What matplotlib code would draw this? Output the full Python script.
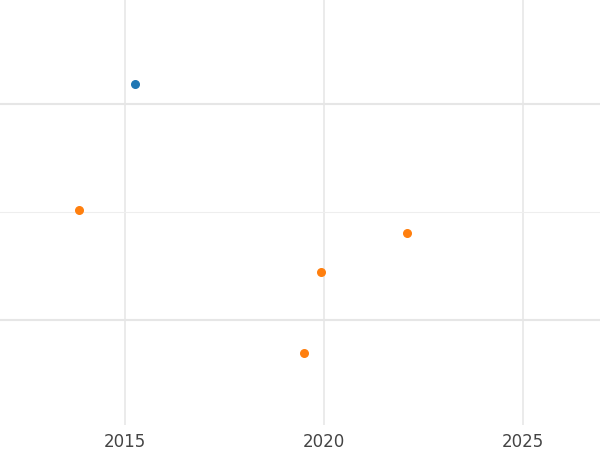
import matplotlib
matplotlib.use("Agg")
import matplotlib.pyplot as plt

# data
blue_x = [2015.25]
blue_y = [3.18]
orange_x = [2013.84, 2022.09, 2019.93, 2019.5]
orange_y = [2.02, 1.80, 1.44, 0.69]
x_ticks = [2015, 2020, 2025]

fig = plt.figure(figsize=(6, 4.5), dpi=100)
ax = fig.add_axes([0, 1 - 425 / 450, 1, 425 / 450])

ax.scatter(blue_x, blue_y, color="#1f77b4", s=30, zorder=3)
ax.scatter(orange_x, orange_y, color="#ff7f0e", s=30, zorder=3)

ax.set_xlim(2011.86, 2026.93)
ax.set_ylim(0.028, 3.96)
ax.set_xticks(x_ticks)
ax.set_yticks([1, 3])
ax.set_yticks([2], minor=True)
ax.grid(True, which="major", axis="y", color="#e6e6e6", linewidth=1.5)
ax.grid(True, which="major", axis="x", color="#e8e8e8", linewidth=1.2)
ax.grid(True, which="minor", axis="y", color="#eeeeee", linewidth=0.8)
ax.tick_params(axis="x", length=0, labelsize=12, labelcolor="#444444", pad=6)
ax.tick_params(axis="y", which="both", length=0, labelleft=False)
for s in ax.spines.values():
    s.set_visible(False)

fig.savefig("out.png")
